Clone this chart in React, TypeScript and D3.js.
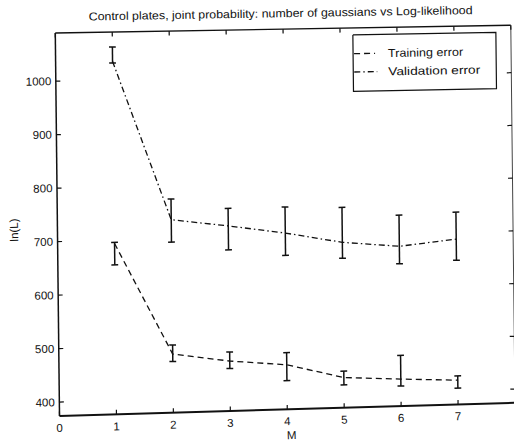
import React from "react";
import * as d3 from "d3";

const W = 514;
const H = 441;

// Number of gaussians M and log-likelihood statistics
const mValues = [1, 2, 3, 4, 5, 6, 7];
const trainMean = [694, 484, 468, 458, 431, 425, 420];
const trainLow = [654, 470, 454, 428, 417, 412, 405];
const trainHigh = [696, 501, 485, 481, 443, 470, 428];
const valMean = [1035, 736, 722, 706, 686, 676, 687];
const valLow = [1032, 694, 677, 664, 656, 643, 647];
const valHigh = [1062, 775, 755, 755, 752, 735, 738];

const xTicks = [0, 1, 2, 3, 4, 5, 6, 7, 8];
const xTickLabels = ["0", "1", "2", "3", "4", "5", "6", "7"];
const yTicks = [400, 500, 600, 700, 800, 900, 1000];

const titleText = "Control plates, joint probability: number of gaussians vs Log-likelihood";
const xLabel = "M";
const yLabel = "ln(L)";
const legendLabels = ["Training error", "Validation error"];

const FONT = "'Liberation Sans', Arial, Helvetica, sans-serif";
const INK = "#111";

const x = d3.scaleLinear().domain([0, 8]).range([59.5, 515]);
const y = d3.scaleLinear().domain([374, 1090]).range([416, 33]);

// The printed page sits slightly skewed; sheet() maps flat plot coordinates onto it.
const X0 = 59.5;
const Y0 = 416;
const SHEAR = 0.011;
const tilt = (py: number) => -0.017 - (0.012 * (py - 33)) / 383;
const sheet = (px: number, py: number): [number, number] => [
  px + SHEAR * (py - Y0),
  py + tilt(py) * (px - X0),
];
const tiltDeg = (py: number) => (Math.atan(tilt(py)) * 180) / Math.PI;

const seg = (pts: [number, number][]) =>
  d3.line()(pts.map(([a, b]) => sheet(a, b))) as string;

function SheetText(props: {
  px: number;
  py: number;
  text: string;
  anchor?: string;
  size?: number;
  len?: number;
  extraRotate?: number;
}) {
  const { px, py, text, anchor = "start", size = 11.5, len, extraRotate = 0 } = props;
  const [tx, ty] = sheet(px, py);
  return (
    <text
      transform={`translate(${tx.toFixed(2)},${ty.toFixed(2)}) rotate(${(tiltDeg(py) + extraRotate).toFixed(3)})`}
      textAnchor={anchor}
      fontSize={size}
      fontFamily={FONT}
      fill={INK}
      textLength={len}
      lengthAdjust={len ? "spacingAndGlyphs" : undefined}
    >
      {text}
    </text>
  );
}

function ErrorSeries(props: {
  mean: number[];
  low: number[];
  high: number[];
  dash: string;
}) {
  const { mean, low, high, dash } = props;
  const pts: [number, number][] = mValues.map((m, i) => [x(m), y(mean[i])]);
  const cap = 3.4;
  return (
    <g>
      <path d={seg(pts)} fill="none" stroke={INK} strokeWidth={1.3} strokeDasharray={dash} />
      {mValues.map((m, i) => {
        const cx = x(m);
        const yl = y(low[i]);
        const yh = y(high[i]);
        return (
          <g key={m} stroke={INK} strokeWidth={1.5} fill="none">
            <path d={seg([[cx, yl], [cx, yh]])} />
            <path d={seg([[cx - cap, yl], [cx + cap, yl]])} />
            <path d={seg([[cx - cap, yh], [cx + cap, yh]])} />
          </g>
        );
      })}
    </g>
  );
}

export default function App() {
  const [xl, xr] = x.range();
  const yb = y(y.domain()[0]);
  const yt = y(y.domain()[1]);
  const tickLen = 4.5;

  const legend = { l: 357, t: 40, r: 500, b: 97 };

  return (
    <svg
      width={W}
      height={H}
      viewBox={`0 0 ${W} ${H}`}
      style={{ position: "absolute", left: 0, top: 0, background: "#fff" }}
    >
      <rect x={0} y={0} width={W} height={H} fill="#fff" />

      {/* axes frame */}
      <path d={seg([[xl, yt], [xl, yb]])} stroke={INK} strokeWidth={1.5} fill="none" />
      <path d={seg([[xl, yb], [xr, yb]])} stroke={INK} strokeWidth={2} fill="none" />
      <path d={seg([[xl, yt], [xr, yt]])} stroke={INK} strokeWidth={1.4} fill="none" />
      <path d={seg([[xr, yt], [xr, yb]])} stroke="#444" strokeWidth={1} fill="none" />

      {/* y ticks, left and right */}
      {yTicks.map((v) => (
        <g key={v} stroke={INK} strokeWidth={1.2}>
          <path d={seg([[xl, y(v)], [xl + tickLen, y(v)]])} />
          <path d={seg([[xr, y(v)], [xr - tickLen, y(v)]])} />
        </g>
      ))}
      {/* x ticks, bottom and top */}
      {xTicks.map((v) => (
        <g key={v} stroke={INK} strokeWidth={1.2}>
          <path d={seg([[x(v), yb], [x(v), yb - tickLen]])} />
          <path d={seg([[x(v), yt], [x(v), yt + tickLen]])} />
        </g>
      ))}

      {yTicks.map((v) => (
        <SheetText key={v} px={55} py={y(v) + 4} text={String(v)} anchor="end" size={11.5} />
      ))}
      {xTickLabels.map((t, i) => (
        <SheetText key={t} px={x(xTicks[i])} py={432} text={t} anchor="middle" size={11.5} />
      ))}

      <SheetText px={291.5} py={446} text={xLabel} anchor="middle" size={11.5} />
      <SheetText px={20} py={229} text={yLabel} anchor="middle" size={11.5} extraRotate={-90.6} />
      <SheetText px={285} py={21} text={titleText} anchor="middle" size={11.5} len={384} />

      <ErrorSeries mean={valMean} low={valLow} high={valHigh} dash="6,3,1.5,3" />
      <ErrorSeries mean={trainMean} low={trainLow} high={trainHigh} dash="6,4" />

      {/* legend */}
      <path
        d={seg([
          [legend.l, legend.t],
          [legend.r, legend.t],
          [legend.r, legend.b],
          [legend.l, legend.b],
          [legend.l, legend.t],
        ])}
        fill="none"
        stroke={INK}
        strokeWidth={1.2}
      />
      <path
        d={seg([[legend.l + 1, 59], [legend.l + 22, 59]])}
        stroke={INK}
        strokeWidth={1.3}
        strokeDasharray="6,4"
        fill="none"
      />
      <path
        d={seg([[legend.l + 1, 77.5], [legend.l + 24, 77.5]])}
        stroke={INK}
        strokeWidth={1.3}
        strokeDasharray="6,3,1.5,3"
        fill="none"
      />
      <SheetText px={392} py={63} text={legendLabels[0]} size={11.5} len={75} />
      <SheetText px={392} py={81.5} text={legendLabels[1]} size={11.5} len={92} />
    </svg>
  );
}
